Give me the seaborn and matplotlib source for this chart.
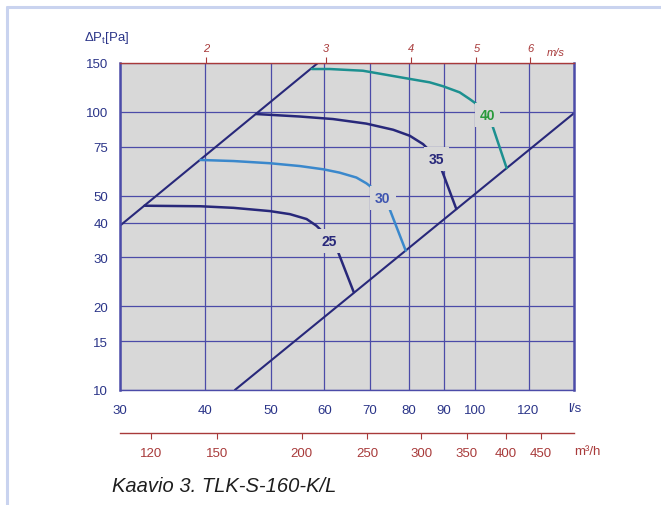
import numpy as np
import matplotlib
matplotlib.use("Agg")
import matplotlib.pyplot as plt
import seaborn as sns
from matplotlib.ticker import FixedLocator, FixedFormatter, NullLocator
from matplotlib.lines import Line2D

# Duct: 160 mm diameter
DUCT_AREA = np.pi * 0.08 ** 2

# Fan curves: air flow (l/s) vs total pressure (Pa)
q25 = [32.6, 39.4, 44.1, 49.9, 53.4, 56.5, 58.4, 59.8, 61.1, 62.8, 66.3]
p25 = [46.0, 45.8, 45.2, 44.0, 42.9, 41.2, 39.0, 36.9, 34.3, 31.6, 22.5]

q30 = [39.4, 44.1, 49.9, 55.2, 59.8, 63.2, 66.9, 69.2, 71.6, 73.2, 74.9, 79.1]
p30 = [67.2, 66.6, 65.4, 63.9, 62.2, 60.5, 58.1, 55.4, 52.0, 48.9, 44.7, 31.7]

q35 = [47.6, 55.2, 61.8, 69.2, 75.8, 80.2, 83.9, 85.8, 87.8, 89.3, 93.9]
p35 = [98.3, 96.3, 94.3, 90.8, 86.3, 82.1, 76.6, 72.5, 67.6, 62.2, 44.8]

q40 = [57.5, 61.1, 68.4, 79.3, 85.8, 89.8, 95.0, 98.3, 102.2, 104.4, 106.2, 111.4]
p40 = [142.7, 142.7, 140.7, 132.1, 127.8, 123.7, 117.6, 111.2, 103.8, 97.5, 88.9, 62.8]

# Curve labels (value, flow, pressure)
curve_names = ["25", "30", "35", "40"]
label_q = [61.1, 73.2, 87.8, 104.4]
label_p = [34.3, 48.9, 67.6, 97.5]

# System lines (operating range limits)
q_sys_hi = [30.0, 58.7]
p_sys_hi = [39.0, 150.0]
q_sys_lo = [44.3, 140.0]
p_sys_lo = [10.0, 99.0]

# Axis ticks
x_ticks = [30, 40, 50, 60, 70, 80, 90, 100, 120]
y_ticks = [10, 15, 20, 30, 40, 50, 75, 100, 150]
v_ticks = [2, 3, 4, 5, 6]
m3h_ticks = [120, 150, 200, 250, 300, 350, 400, 450]

sns.set_style("white")
plt.rcParams["font.family"] = ["Liberation Sans", "DejaVu Sans"]
plt.rcParams["mathtext.fontset"] = "custom"
plt.rcParams["mathtext.rm"] = "Liberation Sans"
plt.rcParams["mathtext.it"] = "Liberation Sans:italic"

BLUE_TXT = "#2a3488"
GRID = "#4b4ba8"
RED = "#a83a3a"
BG = "#d8d8d8"
NAVY = "#28287a"
LIGHT = "#3a88cc"
TEAL = "#1c9090"

fig = plt.figure(figsize=(6.61, 5.06), dpi=100)
ax = fig.add_axes([120 / 661, 1 - 391 / 506, 454 / 661, 327 / 506])
ax.set_facecolor(BG)
ax.set_xscale("log")
ax.set_yscale("log")
ax.set_xlim(30, 140)
ax.set_ylim(10, 150)

for spine in ["left", "right", "bottom"]:
    ax.spines[spine].set_color(GRID)
ax.spines["left"].set_linewidth(1.8)
ax.spines["right"].set_linewidth(1.8)
ax.spines["bottom"].set_linewidth(1.0)
ax.spines["top"].set_color(RED)
ax.spines["top"].set_linewidth(1.0)

ax.xaxis.set_major_locator(FixedLocator(x_ticks))
ax.xaxis.set_major_formatter(FixedFormatter([str(t) for t in x_ticks]))
ax.xaxis.set_minor_locator(NullLocator())
ax.yaxis.set_major_locator(FixedLocator(y_ticks))
ax.yaxis.set_major_formatter(FixedFormatter([str(t) for t in y_ticks]))
ax.yaxis.set_minor_locator(NullLocator())
ax.tick_params(axis="x", colors=GRID, labelcolor=BLUE_TXT, labelsize=9.5,
               length=4, width=1, pad=6, direction="out")
ax.tick_params(axis="y", colors=GRID, labelcolor=BLUE_TXT, labelsize=9.5,
               length=7, width=1, pad=1.5, direction="out")
ax.grid(True, which="major", color=GRID, lw=0.9)
ax.set_axisbelow(True)

# System lines
sns.lineplot(x=q_sys_hi, y=p_sys_hi, ax=ax, color=NAVY, lw=1.5, sort=False,
             estimator=None)
sns.lineplot(x=q_sys_lo, y=p_sys_lo, ax=ax, color=NAVY, lw=1.5, sort=False,
             estimator=None)

# Fan curves
curves = [(q25, p25, NAVY), (q30, p30, LIGHT), (q35, p35, NAVY), (q40, p40, TEAL)]
for q, p, c in curves:
    sns.lineplot(x=q, y=p, ax=ax, color=c, lw=1.8, sort=False, estimator=None)
for line in ax.get_lines():
    line.set_solid_joinstyle("round")

label_colors = [NAVY, "#3f55b0", NAVY, "#2a9a3a"]
for name, q, p, c in zip(curve_names, label_q, label_p, label_colors):
    ax.text(q, p, name, color=c, fontsize=10, fontweight="bold",
            ha="center", va="center", zorder=5,
            bbox=dict(boxstyle="square,pad=0.35", fc=BG, ec="none"))

# Air velocity in the duct (top axis)
top = ax.secondary_xaxis("top", functions=(lambda q: q / 1000 / DUCT_AREA,
                                           lambda v: v * 1000 * DUCT_AREA))
top.xaxis.set_major_locator(FixedLocator(v_ticks))
top.xaxis.set_major_formatter(FixedFormatter([str(t) for t in v_ticks]))
top.xaxis.set_minor_locator(NullLocator())
top.tick_params(axis="x", colors=RED, labelcolor=RED, labelsize=8,
                length=4, width=0.8, pad=3)
for lab in top.get_xticklabels():
    lab.set_fontstyle("italic")
top.spines["top"].set_visible(False)

# Flow in m3/h (lower axis)
bot = ax.secondary_xaxis(-0.1315, functions=(lambda q: q * 3.6,
                                             lambda m: m / 3.6))
bot.xaxis.set_major_locator(FixedLocator(m3h_ticks))
bot.xaxis.set_major_formatter(FixedFormatter([str(t) for t in m3h_ticks]))
bot.xaxis.set_minor_locator(NullLocator())
bot.tick_params(axis="x", colors=RED, labelcolor=RED, labelsize=9.5,
                length=4, width=0.8, pad=6)
bot.spines["bottom"].set_color(RED)
bot.spines["bottom"].set_linewidth(1.0)

# Unit labels
fig.text(568 / 661, 1 - 409 / 506, "l/s", color=BLUE_TXT, fontsize=9.5,
         ha="left", va="center")
fig.text(574 / 661, 1 - 452 / 506, "m³/h", color=RED, fontsize=9.5,
         ha="left", va="center")
fig.text(547 / 661, 1 - 53 / 506, "m/s", color=RED, fontsize=8,
         style="italic", ha="left", va="center")
fig.text(84 / 661, 1 - 38 / 506, r"$\Delta$P$_\mathregular{t}$[Pa]",
         color=BLUE_TXT, fontsize=9.5, ha="left", va="center")

fig.text(112 / 661, 1 - 487 / 506, "Kaavio 3. TLK-S-160-K/L", color="#1e1e1e",
         fontsize=14.5, style="italic", ha="left", va="center")

# Frame border
fig.add_artist(Line2D([7 / 661, 7 / 661], [0, 1 - 8 / 506],
                      transform=fig.transFigure, color="#c9d3ef", lw=2.2))
fig.add_artist(Line2D([7 / 661, 1], [1 - 8 / 506, 1 - 8 / 506],
                      transform=fig.transFigure, color="#c9d3ef", lw=2.2))

fig.savefig("out.png", dpi=100)
